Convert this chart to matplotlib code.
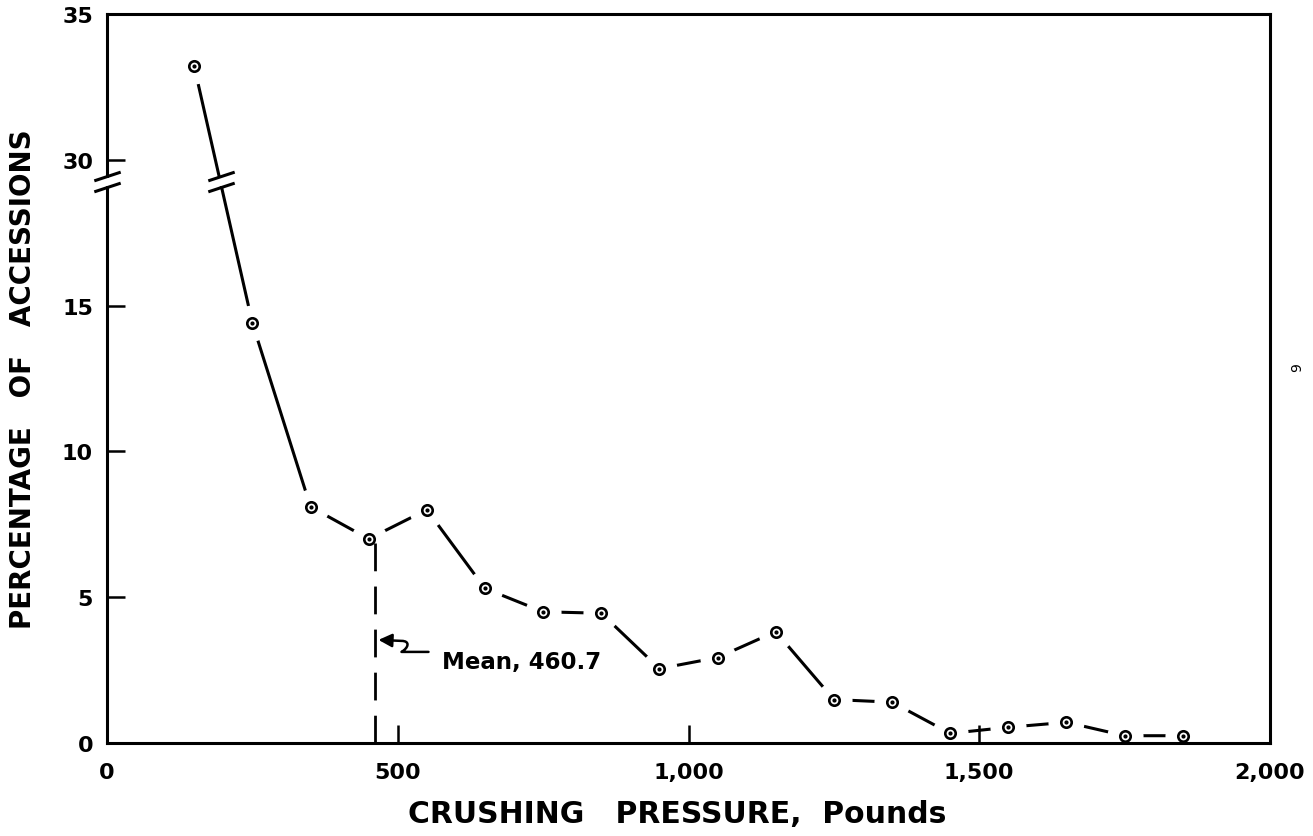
import numpy as np
import matplotlib
matplotlib.use("Agg")
import matplotlib.pyplot as plt
from matplotlib.path import Path
from matplotlib.patches import FancyArrowPatch

# ---------------- data ----------------
pressure = [150, 250, 350, 450, 550, 650, 750, 850, 950, 1050,
            1150, 1250, 1350, 1450, 1550, 1650, 1750, 1850]
percent = [33.2, 14.4, 8.1, 7.0, 8.0, 5.3, 4.5, 4.45, 2.55, 2.93,
           3.82, 1.49, 1.40, 0.33, 0.54, 0.71, 0.25, 0.25]
mean_value = 460.7
mean_label = "Mean, 460.7"

x_ticks = [0, 500, 1000, 1500, 2000]
x_ticklabels = ["0", "500", "1,000", "1,500", "2,000"]
y_ticks = [0, 5, 10, 15, 30, 35]
y_ticklabels = ["0", "5", "10", "15", "30", "35"]

# broken y scale: 18..30 compressed
def fwd(y):
    y = np.asarray(y, dtype=float)
    return np.where(y <= 18, y, np.where(y >= 30, y - 10, 18 + (y - 18) / 6.0))

def inv(z):
    z = np.asarray(z, dtype=float)
    return np.where(z <= 18, z, np.where(z >= 20, z + 10, 18 + (z - 18) * 6.0))

plt.rcParams['lines.scale_dashes'] = False
plt.rcParams['font.family'] = ['DejaVu Sans']

fig = plt.figure(figsize=(13.13, 8.37), dpi=100)
ax = fig.add_axes([107/1313, 1 - 744/837, (1270-107)/1313, (744-15)/837])
ax.set_yscale('function', functions=(fwd, inv))
ax.set_xlim(0, 2000)
ax.set_ylim(0, 35)

lw = 2.2
# data line with gaps around markers
ax.plot(pressure, percent, color='black', lw=lw, zorder=2.0, solid_capstyle='butt')
ax.plot(pressure, percent, 'o', ms=26, mfc='white', mec='none', zorder=2.1)
ax.plot(pressure, percent, 'o', ms=7.5, mfc='white', mec='black', mew=1.9, zorder=2.3)
ax.plot(pressure, percent, 'o', ms=2.0, mfc='black', mec='black', zorder=2.35)

# mean dashed line
ax.plot([mean_value, mean_value], [0, 6.85], color='black', lw=2.0,
        dashes=(20, 11), zorder=2.4)

def px2data(px, py):
    return ((px - 106.5) / 0.5815, (744 - py) / 29.13)

ax.text(*px2data(442, 663), mean_label, fontsize=16.5, fontweight='bold',
        ha='left', va='center')
verts = [px2data(*p) for p in [(428, 653), (401, 653),
                               (408, 649), (410, 642), (401, 642),
                               (378, 641)]]
codes = [Path.MOVETO, Path.LINETO, Path.CURVE4, Path.CURVE4, Path.CURVE4,
         Path.LINETO]
arrow = FancyArrowPatch(path=Path(verts, codes),
                        arrowstyle='-|>,head_length=8,head_width=4',
                        color='black', lw=1.8, transform=ax.transData,
                        zorder=5)
ax.add_patch(arrow)

# spines / ticks
for s in ax.spines.values():
    s.set_linewidth(2.2)
    s.set_zorder(2.6)
ax.set_axisbelow(False)
ax.set_xticks(x_ticks)
ax.set_xticklabels(x_ticklabels)
ax.set_yticks(y_ticks)
ax.set_yticklabels(y_ticklabels)
ax.minorticks_off()
ax.tick_params(axis='both', direction='in', length=13, width=1.8,
               labelsize=16)
ax.tick_params(axis='x', pad=14)
ax.tick_params(axis='y', pad=10)
for t in ax.get_xticklabels() + ax.get_yticklabels():
    t.set_fontweight('bold')

# axis break: white band and slash marks
z_lo, z_hi = 19.07, 19.43
ax.axhspan(inv(z_lo + 0.06), inv(z_hi - 0.06), xmin=-0.02, xmax=0.2,
           color='white', zorder=6, clip_on=False)
slash = Path([(-1, -0.33), (1, 0.33)], [Path.MOVETO, Path.LINETO])
for xb in [0, 196]:
    ax.plot([xb, xb], [inv(z_lo), inv(z_hi)], ls='none', marker=slash, ms=19,
            mec='black', mew=2.2, zorder=7, clip_on=False)

ax.set_xlabel("CRUSHING   PRESSURE,  Pounds", fontsize=21.5, fontweight='bold',
              labelpad=12)
ax.xaxis.label.set_x(0.49)
ax.set_ylabel("PERCENTAGE   OF   ACCESSIONS", fontsize=20, fontweight='bold',
              labelpad=18)

fig.text(1297/1313, 1 - 368/837, "9", rotation=90, fontsize=10,
         ha='center', va='center')

fig.savefig("out.png", dpi=100)
